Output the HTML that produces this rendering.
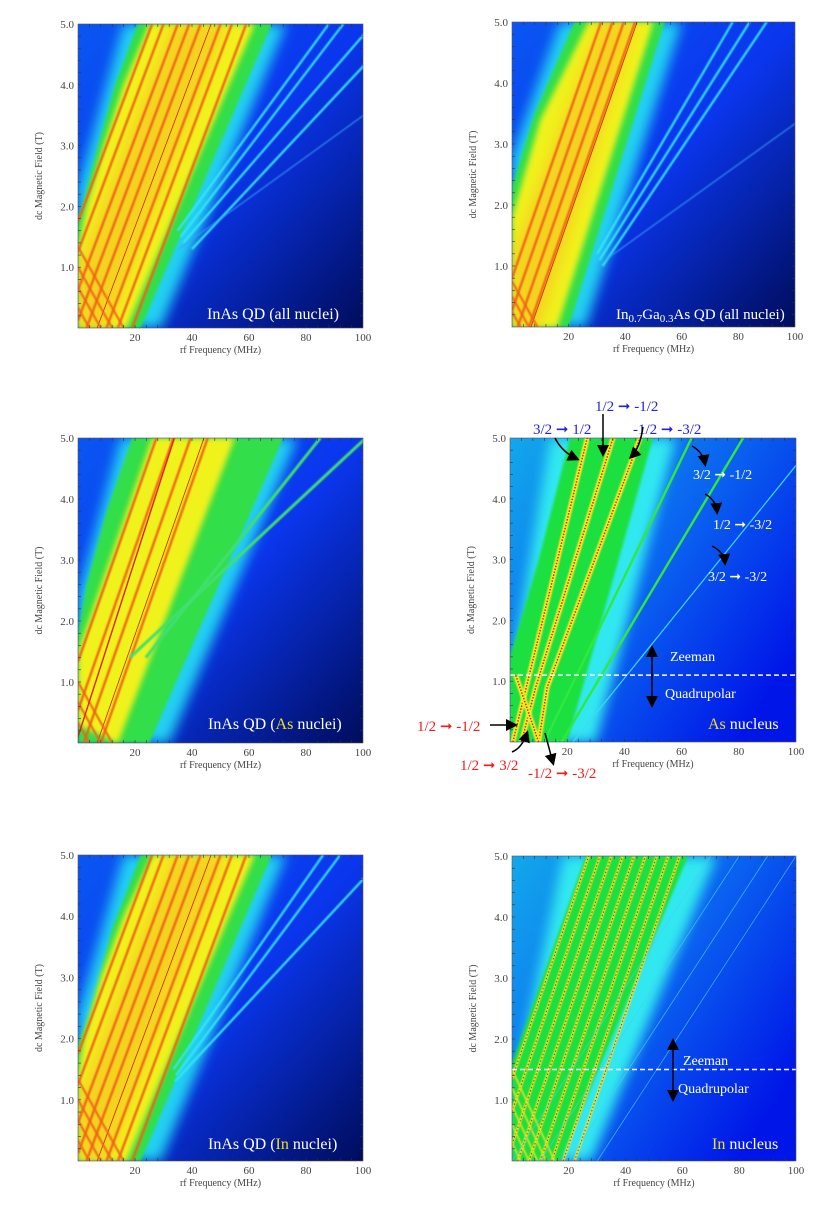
<!DOCTYPE html>
<html><head><meta charset="utf-8">
<style>
html,body{margin:0;padding:0;background:#fff;}
svg{display:block;font-family:"Liberation Serif",serif;}
</style></head>
<body>
<svg id="fig" width="817" height="1219" viewBox="0 0 817 1219" xmlns="http://www.w3.org/2000/svg">
<defs>
<filter id="blur8" x="-20%" y="-20%" width="140%" height="140%"><feGaussianBlur stdDeviation="6"/></filter>
<filter id="blur4" x="-20%" y="-20%" width="140%" height="140%"><feGaussianBlur stdDeviation="3"/></filter>
<filter id="blur2" x="-20%" y="-20%" width="140%" height="140%"><feGaussianBlur stdDeviation="1.2"/></filter>
<filter id="blur1" x="-20%" y="-20%" width="140%" height="140%"><feGaussianBlur stdDeviation="0.7"/></filter>
<linearGradient id="bgA" x1="0" y1="0" x2="1" y2="1">
<stop offset="0" stop-color="#0a56f2"/><stop offset="0.5" stop-color="#0a36ee"/><stop offset="1" stop-color="#000c5c"/></linearGradient>
<linearGradient id="bgB" x1="0" y1="0" x2="1" y2="0.7">
<stop offset="0" stop-color="#12a8ec"/><stop offset="0.55" stop-color="#0a62f0"/><stop offset="1" stop-color="#0016e8"/></linearGradient>
<marker id="ah" markerWidth="8" markerHeight="8" refX="6" refY="4" orient="auto"><path d="M0,0 L8,4 L0,8 z" fill="#000"/></marker>
</defs>
<g id="root"></g>
</svg>
<script>
// ---- data (frequency MHz, field T) ----
const xTicks = [20,40,60,80,100];
const yTicks = [1.0,2.0,3.0,4.0,5.0];
// Panel 1: InAs all nuclei
const p1Glow = [[0,1.3],[21,0],[29,0],[73,5],[16,5],[0,2.3]];
const p1Green = [[0,0],[22,0],[68,5],[21,5],[13,4],[7,3],[2,2.1],[0,1.7]];
const p1Yellow = [[0,0],[17,0],[62,5],[25,5],[16,4],[9,3],[3,2.0],[0,1.3]];
const p1Orange = [[0,0],[11,0],[52,5],[33,5],[0,1.0]];
const p1RedSlope = 8;
const p1RedIntercepts = [-14,-10,-5,-1,3,10,14,19];
const p1CrossIntercepts = [4,8,12,16];
const p1CyanSlopes = [15.6,16.3,18.5,20,29.5];
const p1CyanIntercepts = [10,11.6,11,14,-3];
const p1CyanStart = [1.6,1.5,1.4,1.3,1.3];
// Panel 2: In0.7Ga0.3As
const p2Glow = [[0,1.8],[19,0],[26,0],[60,5],[17,5],[0,2.8]];
const p2Green = [[0,0],[20,0],[54,5],[22,5],[8,3.5],[0,2.3]];
const p2Yellow = [[0,0],[16,0],[50,5],[27,5],[10,3.4],[0,1.8]];
const p2Orange = [[0,0],[10,0],[44,5],[31,5],[0,1.2]];
const p2RedSlope = 7.5;
const p2RedIntercepts = [-6,-2,2,6];
const p2CyanSlopes = [12.6,13.6,14.5,30];
const p2CyanIntercepts = [15,16,17.5,0];
const p2CyanStart = [1.2,1.1,1.0,1.0];
// Panel 3: As nuclei
const p3Glow = [[0,1.3],[24,0],[32,0],[77,5],[15,5],[0,2.4]];
const p3Green = [[0,0],[25,0],[72,5],[19,5],[10,3.8],[3,2.6],[0,1.8]];
const p3Yellow = [[0,0.3],[14,0],[55,5],[26,5],[0,1.5]];
const p3RedSlope = 7.5;
const p3RedIntercepts = [-10,-4,2,8];
const p3GreenSlopes = [17,23];
const p3GreenIntercepts = [0,-14];
// Panel 4: As nucleus
const p4Glow = [[0,0],[30,0],[58,5],[14,5],[0,1.0]];
const p4Green = [[0,0],[20,0],[50,5],[21,5],[10,3],[0,1.4]];
const p4Dotted = [[[1,0],[27,5]],[[4,0],[9,0.9],[36,5]],[[10,0],[13,0.9],[45.5,5]],[[10,0],[2,1.1]]];
const p4GreenLines = [[[12,0],[63.5,5]],[[18,0],[81.5,5]]];
const p4CyanLines = [[[22,0],[100,4.55]]];
const p4Boundary = 1.1;
// Panel 5: In nuclei
const p5Glow = [[0,1.3],[21,0],[29,0],[73,5],[16,5],[0,2.4]];
const p5Green = [[0,0],[22,0],[68,5],[22,5],[12,3.8],[4,2.4],[0,1.9]];
const p5Yellow = [[0,0],[17,0],[62,5],[26,5],[16,4],[8,3],[2,2.0],[0,1.4]];
const p5Orange = [[0,0],[11,0],[52,5],[33,5],[0,1.0]];
const p5RedIntercepts = [-14,-10,-5,-1,3,10,14,19];
const p5CyanSlopes = [15,16,20];
const p5CyanIntercepts = [11,12,8];
const p5CyanStart = [1.5,1.4,1.3];
// Panel 6: In nucleus
const p6Glow = [[0,0],[28,0],[72,5],[18,5],[0,1.0]];
const p6Green = [[0,0],[17,0],[62,5],[26,5],[0,1.6]];
const p6DotSlope = 7.4;
const p6DotIntercepts = [-10,-6,-2,2,6,10,14,18,22];
const p6Boundary = 1.5;

const panels = [
 {x:78,y:24,w:285,h:304},{x:512,y:22,w:283,h:305},
 {x:78,y:438,w:285,h:305},{x:510,y:438,w:286,h:304},
 {x:78,y:855,w:285,h:306},{x:512,y:856,w:284,h:305}];
const NS="http://www.w3.org/2000/svg";
const root=document.getElementById('root');
function mk(tag,attrs,parent){const e=document.createElementNS(NS,tag);for(const k in attrs)e.setAttribute(k,attrs[k]);(parent||root).appendChild(e);return e;}
function X(p,f){return p.x+f*p.w/100;}
function Y(p,B){return p.y+p.h-B*p.h/5;}
function pts(p,arr){return arr.map(a=>X(p,a[0]).toFixed(1)+','+Y(p,a[1]).toFixed(1)).join(' ');}
function poly(p,g,arr,fill,filter,name,op){const e=mk('polygon',{points:pts(p,arr),fill:fill},g);if(filter)e.setAttribute('filter',filter);if(op)e.setAttribute('opacity',op);

return e;}
function pline(p,g,arr,stroke,w,dash,name,filter){const e=mk('polyline',{points:pts(p,arr),fill:'none',stroke:stroke,'stroke-width':w},g);if(dash)e.setAttribute('stroke-dasharray',dash);if(filter)e.setAttribute('filter',filter);

return e;}
function sline(p,g,slope,c,stroke,w,name,b0,b1,filter,dash){let s=Math.max(b0||0,c<0?-c/slope:0);let e=b1||5;return pline(p,g,[[slope*s+c,s],[slope*e+c,e]],stroke,w,dash,name,filter);}

function frame(p,i){
 const g=mk('g',{});
 
 
 mk('rect',{x:p.x,y:p.y,width:p.w,height:p.h,fill:'none',stroke:'#555','stroke-width':0.6},g);
 for(let b=0.2;b<5;b+=0.2){const y=Y(p,b);mk('line',{x1:p.x,x2:p.x+3,y1:y,y2:y,stroke:'#333','stroke-width':0.6},g);mk('line',{x1:p.x+p.w,x2:p.x+p.w-3,y1:y,y2:y,stroke:'#333','stroke-width':0.6},g);}
 for(let f=4;f<100;f+=4){const x=X(p,f);mk('line',{x1:x,x2:x,y1:p.y+p.h,y2:p.y+p.h-3,stroke:'#333','stroke-width':0.6},g);mk('line',{x1:x,x2:x,y1:p.y,y2:p.y+3,stroke:'#333','stroke-width':0.6},g);}
 yTicks.forEach(v=>{const t=mk('text',{x:p.x-4,y:Y(p,v)+4,'text-anchor':'end','font-size':11,fill:'#444'},g);t.textContent=v.toFixed(1);
  
  });
 xTicks.forEach(v=>{const t=mk('text',{x:X(p,v),y:p.y+p.h+13,'text-anchor':'middle','font-size':11,fill:'#444'},g);t.textContent=v;
  
  });
 const yt=mk('text',{x:0,y:0,'text-anchor':'middle','font-size':10,fill:'#444',transform:`translate(${p.x-36},${p.y+p.h/2}) rotate(-90)`},g);yt.textContent='dc Magnetic Field (T)';
 
 
 const xt=mk('text',{x:p.x+p.w/2,y:p.y+p.h+25,'text-anchor':'middle','font-size':10,fill:'#444'},g);xt.textContent='rf Frequency (MHz)';
 
 
}
function plotGroup(p,i,bg){
 const cp=mk('clipPath',{id:'cp'+i},document.querySelector('defs'));
 mk('rect',{x:p.x,y:p.y,width:p.w,height:p.h},cp);
 const g=mk('g',{'clip-path':'url(#cp'+i+')'});
 
 
 mk('rect',{x:p.x,y:p.y,width:p.w,height:p.h,fill:bg},g);
 return g;
}
function broad(pi,glow,green,yellow,orange,redS,redC,crossC,cyS,cyC,cyB){
 const p=panels[pi];const g=plotGroup(p,pi,'url(#bgA)');
 poly(p,g,glow,'#22d0f2','url(#blur8)','band-glow');
 poly(p,g,green,'#30de48','url(#blur2)','green-band');
 poly(p,g,yellow,'#f0f21a','url(#blur4)','yellow-band');
 if(orange) poly(p,g,orange,'#f8c020','url(#blur8)','orange-band','0.6');
 redC.forEach(c=>sline(p,g,redS,c,'#f06414',2.4,'red-transition-line',0,5,'url(#blur1)'));
 sline(p,g,redS,6.7,'#d02000',0.8,'center-line');
 if(crossC) crossC.forEach(c=>pline(p,g,[[c,0],[0,c/12]],'#ee6418',2,null,'cross-line','url(#blur1)'));
 if(cyS) cyS.forEach((s,k)=>{const faint=cyS.length>3&&k===cyS.length-1;
  sline(p,g,s,cyC[k],faint?'#3a9cf8':'#34e4f8',faint?1:2.2,'cyan-satellite-line',cyB[k],5,'url(#blur1)');});
 frame(p,pi);
 return g;
}
broad(0,p1Glow,p1Green,p1Yellow,p1Orange,p1RedSlope,p1RedIntercepts,p1CrossIntercepts,p1CyanSlopes,p1CyanIntercepts,p1CyanStart);
broad(1,p2Glow,p2Green,p2Yellow,p2Orange,p2RedSlope,p2RedIntercepts,[3,6,9],p2CyanSlopes,p2CyanIntercepts,p2CyanStart);
const g3=broad(2,p3Glow,p3Green,p3Yellow,null,p3RedSlope,p3RedIntercepts,[4,8,12],null,null,null);
sline(panels[2],g3,6.9,-0.7,'#e02010',1.4,'thin-red-line');
p3GreenSlopes.forEach((s,k)=>sline(panels[2],g3,s,p3GreenIntercepts[k],'#40e070',3,'green-satellite-line',1.4,5,'url(#blur1)'));
broad(4,p5Glow,p5Green,p5Yellow,p5Orange,p1RedSlope,p5RedIntercepts,p1CrossIntercepts,p5CyanSlopes,p5CyanIntercepts,p5CyanStart);

// ---------- Panel 4 ----------
(function(){const p=panels[3];const g=plotGroup(p,3,'url(#bgB)');
 poly(p,g,p4Glow,'#30e8f0','url(#blur8)','band-glow');
 poly(p,g,p4Green,'#1ee040','url(#blur2)','green-region');
 p4Dotted.forEach(l=>{pline(p,g,l,'#f0f020',5,null,'yellow-glow','url(#blur1)');pline(p,g,l,'#e02020',1.5,'1.5,1.5','red-dotted-transition');});
 p4GreenLines.forEach(l=>pline(p,g,l,'#30e840',2.4,null,'green-transition-line'));
 p4CyanLines.forEach(l=>pline(p,g,l,'#40d8f0',1.2,null,'cyan-transition-line'));
 const y=Y(p,p4Boundary);const d=mk('line',{x1:p.x,x2:p.x+p.w,y1:y,y2:y,stroke:'#fff','stroke-width':1.6,'stroke-dasharray':'5,3'},g);
 
 
 frame(p,3);})();
// ---------- Panel 6 ----------
(function(){const p=panels[5];const g=plotGroup(p,5,'url(#bgB)');
 poly(p,g,p6Glow,'#30e8f0','url(#blur8)','band-glow');
 poly(p,g,p6Green,'#1ee040','url(#blur2)','green-region');
 p6DotIntercepts.forEach(c=>{sline(p,g,p6DotSlope,c,'#e8f020',2.4,'yellow-glow',0,5,'url(#blur1)');sline(p,g,p6DotSlope,c,'#e02020',1,'red-dotted-transition',0,5,null,'1.5,2');});
 [3,6,9,12,15].forEach(c=>pline(p,g,[[c,0],[0,c/10]],'#f0e020',1.6,null,'cross-line','url(#blur1)'));
 [20,30,40,50].forEach(c=>sline(p,g,14,c-20,'#50c8f0',0.6,'faint-satellite-line'));
 const y=Y(p,p6Boundary);const d=mk('line',{x1:p.x,x2:p.x+p.w,y1:y,y2:y,stroke:'#fff','stroke-width':1.6,'stroke-dasharray':'5,3'},g);
 
 
 frame(p,5);})();

// ---------- annotations ----------
function txt(x,y,s,size,fill,name,anchor){const t=mk('text',{x:x,y:y,'font-size':size,fill:fill,'text-anchor':anchor||'start'});t.innerHTML=s;
 
 return t;}
txt(207,319,'InAs QD (all nuclei)',16,'#fff','panel-label');
txt(616,319,'In<tspan font-size="11" dy="3">0.7</tspan><tspan dy="-3">Ga</tspan><tspan font-size="11" dy="3">0.3</tspan><tspan dy="-3">As QD (all nuclei)</tspan>',15,'#fff','panel-label');
txt(208,729,'InAs QD (<tspan fill="#f0e020">As</tspan> nuclei)',16,'#fff','panel-label');
txt(208,1149,'InAs QD (<tspan fill="#f0e020">In</tspan> nuclei)',16,'#fff','panel-label');
txt(708,729,'<tspan fill="#f0e020">As</tspan> nucleus',16,'#fff','panel-label');
txt(712,1149,'<tspan fill="#f0e020">In</tspan> nucleus',16,'#fff','panel-label');
txt(670,661,'Zeeman',14,'#fff','zeeman-label');
txt(665,698,'Quadrupolar',14,'#fff','quadrupolar-label');
txt(683,1065,'Zeeman',14,'#fff','zeeman-label');
txt(678,1093,'Quadrupolar',14,'#fff','quadrupolar-label');
txt(595,411,'1/2 ➞ -1/2',15,'#2222dd','transition-label');
txt(533,434,'3/2 ➞ 1/2',15,'#2222dd','transition-label');
txt(633,434,'-1/2 ➞ -3/2',15,'#2222dd','transition-label');
txt(693,479,'3/2 ➞ -1/2',14,'#fff','transition-label');
txt(713,529,'1/2 ➞ -3/2',14,'#fff','transition-label');
txt(708,581,'3/2 ➞ -3/2',14,'#fff','transition-label');
txt(417,731,'1/2 ➞ -1/2',15,'#ee1c1c','transition-label');
txt(460,770,'1/2 ➞ 3/2',15,'#ee1c1c','transition-label');
txt(528,778,'-1/2 ➞ -3/2',15,'#ee1c1c','transition-label');
function arrow(d,name){const e=mk('path',{d:d,fill:'none',stroke:'#000','stroke-width':1.5,'marker-end':'url(#ah)'});
 
 }
arrow('M555,438 Q562,452 577,459','annotation-arrow');
arrow('M603,414 L603,454','annotation-arrow');
arrow('M643,427 Q640,448 631,457','annotation-arrow');
arrow('M692,446 Q703,452 705,464','annotation-arrow');
arrow('M705,494 Q716,500 717,512','annotation-arrow');
arrow('M712,546 Q724,552 725,563','annotation-arrow');
arrow('M490,725 L515,725','annotation-arrow');
arrow('M512,752 Q522,748 527,733','annotation-arrow');
arrow('M545,733 Q550,752 553,763','annotation-arrow');
arrow('M652,676 L652,648','zeeman-arrow');
arrow('M652,676 L652,705','quadrupolar-arrow');
arrow('M673,1069 L673,1041','zeeman-arrow');
arrow('M673,1069 L673,1099','quadrupolar-arrow');
</script>
</body></html>
